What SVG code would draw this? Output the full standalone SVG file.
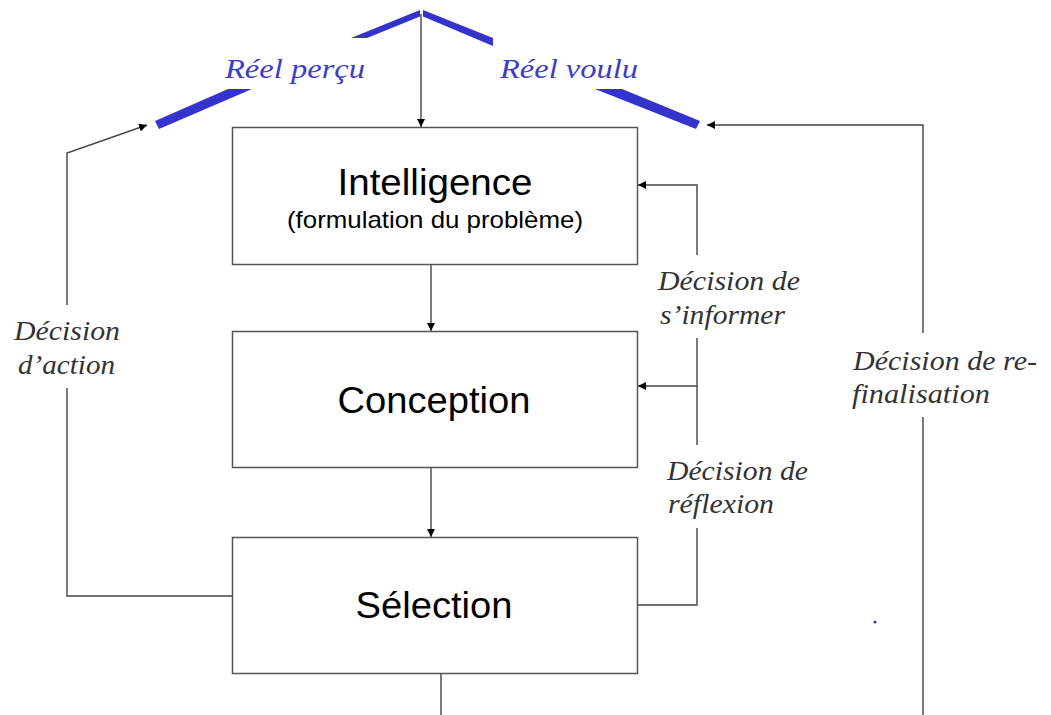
<svg xmlns="http://www.w3.org/2000/svg" width="1051" height="715" viewBox="0 0 1051 715">
<style>
.box{fill:#fff;stroke:#555;stroke-width:1.5}
.t{font-family:"Liberation Sans",Arial,sans-serif;fill:#000;text-anchor:middle}
.lbl{font-family:"Liberation Serif","Times New Roman",serif;font-style:italic;font-size:27px;fill:#333}
.blue{fill:#3434CC}
.bt{font-family:"Liberation Serif","Times New Roman",serif;font-style:italic;font-size:27px;fill:#3C3CC8}
.c{fill:none;stroke:#444;stroke-width:1.4}
</style>
<defs>
<marker id="ah" viewBox="0 0 10 10" refX="10" refY="5" markerWidth="8" markerHeight="8" markerUnits="userSpaceOnUse" orient="auto">
<path d="M0,0 L10,5 L0,10 z" fill="#000"/>
</marker>
</defs>
<rect width="1051" height="715" fill="#fff"/>
<g id="reel">
<polygon class="blue" points="351,38 367,38 420,16.5 420,10"/>
<polygon class="blue" points="423,10 423,16.5 493,46 493,38"/>
<polygon class="blue" points="155,121 228,89 252,89 159,129"/>
<polygon class="blue" points="595,89 622,89 700,121 696,129"/>
<text class="bt" x="225" y="78" textLength="140" lengthAdjust="spacingAndGlyphs">Réel perçu</text>
<text class="bt" x="500" y="78" textLength="138" lengthAdjust="spacingAndGlyphs">Réel voulu</text>
<circle cx="875" cy="622" r="1.5" fill="#3434CC"/>
</g>
<g id="connectors">
<line class="c" x1="421" y1="14" x2="421" y2="127" marker-end="url(#ah)"/>
<line class="c" x1="431" y1="265" x2="431" y2="331" marker-end="url(#ah)"/>
<line class="c" x1="431" y1="467" x2="431" y2="537" marker-end="url(#ah)"/>
<line class="c" x1="441" y1="674" x2="441" y2="715"/>
<polyline class="c" points="232,596 67,596 67,388"/>
<polyline class="c" points="67,305 67,153 147,125" marker-end="url(#ah)"/>
<polyline class="c" points="697,255 697,185 638,185" marker-end="url(#ah)"/>
<line class="c" x1="697" y1="338" x2="697" y2="445"/>
<line class="c" x1="697" y1="386" x2="638" y2="386" marker-end="url(#ah)"/>
<polyline class="c" points="638,605 697,605 697,528"/>
<polyline class="c" points="923,333 923,125 707,125" marker-end="url(#ah)"/>
<line class="c" x1="923" y1="417" x2="923" y2="715"/>
<text class="lbl" x="14" y="340" textLength="106" lengthAdjust="spacingAndGlyphs">Décision</text>
<text class="lbl" x="18" y="374" textLength="97" lengthAdjust="spacingAndGlyphs">d’action</text>
<text class="lbl" x="658" y="290" textLength="142" lengthAdjust="spacingAndGlyphs">Décision de</text>
<text class="lbl" x="660" y="324" textLength="125" lengthAdjust="spacingAndGlyphs">s’informer</text>
<text class="lbl" x="667" y="480" textLength="141" lengthAdjust="spacingAndGlyphs">Décision de</text>
<text class="lbl" x="668" y="513" textLength="106" lengthAdjust="spacingAndGlyphs">réflexion</text>
<text class="lbl" x="853" y="370" textLength="184" lengthAdjust="spacingAndGlyphs">Décision de re-</text>
<text class="lbl" x="852" y="403" textLength="138" lengthAdjust="spacingAndGlyphs">finalisation</text>
</g>
<g id="intelligence">
<rect class="box" x="232.5" y="127.5" width="405" height="137"/>
<text class="t" x="435" y="195" font-size="36" textLength="195" lengthAdjust="spacingAndGlyphs">Intelligence</text>
<text class="t" x="435" y="228" font-size="24" textLength="296" lengthAdjust="spacingAndGlyphs">(formulation du problème)</text>
</g>
<g id="conception">
<rect class="box" x="232.5" y="331.5" width="405" height="136"/>
<text class="t" x="434" y="413" font-size="36" textLength="193" lengthAdjust="spacingAndGlyphs">Conception</text>
</g>
<g id="selection">
<rect class="box" x="232.5" y="537.5" width="405" height="136"/>
<text class="t" x="434" y="618" font-size="36" textLength="157" lengthAdjust="spacingAndGlyphs">Sélection</text>
</g>
</svg>
